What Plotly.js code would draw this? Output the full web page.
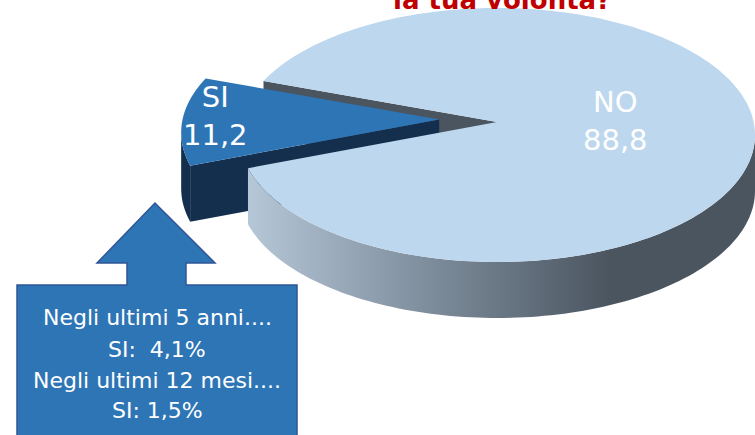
<!DOCTYPE html>
<html>
<head>
<meta charset="utf-8">
<script src="https://cdn.plot.ly/plotly-3.0.1.min.js"></script>
<style>html,body{margin:0;padding:0;background:#fff;}#chart{width:755px;height:435px;}</style>
</head>
<body>
<div id="chart"></div>
<script>
// ---- data ----
const categories = ['SI', 'NO'];
const values = [11.2, 88.8];
const titleText = 'la tua volontà?';
const calloutLines = ['Negli ultimi 5 anni....', 'SI:\u00a0 4,1%', 'Negli ultimi 12 mesi....', 'SI: 1,5%'];

// ---- styles / geometry (pixel space) ----
const G = {cx: 497, cy: 135, rx: 258, ry: 127, ax: 497, ay: 122, depth: 56, firstMidDeg: 175};
const pulls = [0.225, 0];
const topColors = ['#2e75b6', '#bdd7ee'];
const wallColors = ['#142e4d', '#4a5560'];
const outerGradient = [null, [[0, '#b6c7d8'], [0.5, '#7e8d9c'], [1, '#4a5560']]];
const labelPos = [[215, 116], [615, 121]];
const calloutY = [317, 349, 380, 410];

const total = values.reduce((a, b) => a + b, 0);
const rad = d => d * Math.PI / 180;
function pt(t, z, off) {
  return [G.cx + G.rx * Math.cos(rad(t)) + off[0], G.cy - G.ry * Math.sin(rad(t)) + z + off[1]];
}
function arc(t0, t1, z, off) {
  const n = Math.max(2, Math.ceil(Math.abs(t1 - t0) / 1.5));
  const out = [];
  for (let k = 0; k <= n; k++) out.push(pt(t0 + (t1 - t0) * k / n, z, off));
  return out;
}
function poly(points, extra) {
  const x = points.map(p => p[0]), y = points.map(p => p[1]);
  x.push(x[0]); y.push(y[0]);
  return Object.assign({type: 'scatter', x, y, mode: 'none', fill: 'toself', hoverinfo: 'skip', showlegend: false}, extra);
}

// slice angles from data
let a = G.firstMidDeg - values[0] / total * 360 / 2;
const slices = values.map((v, i) => {
  const span = v / total * 360;
  const s = {i, a0: a, a1: a + span, mid: a + span / 2};
  a += span;
  const p = pulls[i];
  s.off = [p * G.rx * Math.cos(rad(s.mid)), -p * G.ry * Math.sin(rad(s.mid))];
  s.apex = [G.ax + s.off[0], G.ay + s.off[1]];
  return s;
});

const cutWalls = [], outerWalls = [], tops = [];
const order = slices.slice().sort((p, q) => pulls[p.i] - pulls[q.i]);
order.forEach(s => {
  [[s.a0, -1], [s.a1, 1]].forEach(([ang, sg]) => {
    if (Math.sin(rad(ang + sg * 90)) < -0.01) {
      const p0 = pt(ang, 0, s.off), p1 = pt(ang, G.depth, s.off);
      cutWalls.push(poly([s.apex, p0, p1, [s.apex[0], s.apex[1] + G.depth]], {fillcolor: wallColors[s.i]}));
    }
  });
});
slices.forEach(s => {
  for (let k = -1; k <= 2; k++) {
    const lo = Math.max(s.a0, 180 + 360 * k), hi = Math.min(s.a1, 360 + 360 * k);
    if (hi > lo) {
      const pts = arc(lo, hi, 0, s.off).concat(arc(hi, lo, G.depth, s.off));
      const extra = outerGradient[s.i]
        ? {fillcolor: '#7e8d9c', fillgradient: {type: 'horizontal', colorscale: outerGradient[s.i], start: 247, stop: 610}}
        : {fillcolor: wallColors[s.i]};
      outerWalls.push(poly(pts, extra));
    }
  }
});
slices.slice().sort((p, q) => pulls[p.i] - pulls[q.i]).forEach(s => {
  tops.push(poly([s.apex].concat(arc(s.a0, s.a1, 0, s.off)), {fillcolor: topColors[s.i]}));
});

const annotations = [];
annotations.push({x: 502, y: 17, xref: 'x', yref: 'y', text: titleText, showarrow: false,
  xanchor: 'center', yanchor: 'bottom', font: {family: 'DejaVu Sans', size: 26, color: '#c00000', weight: 'bold'}});
slices.forEach(s => {
  const [lx, ly] = labelPos[s.i];
  annotations.push({x: lx, y: ly, xref: 'x', yref: 'y', showarrow: false, xanchor: 'center', yanchor: 'middle',
    text: categories[s.i] + '<br>' + values[s.i].toFixed(1).replace('.', ','),
    font: {family: 'DejaVu Sans', size: 29, color: '#ffffff'}});
});
calloutLines.forEach((t, k) => {
  annotations.push({x: 157, y: calloutY[k], xref: 'x', yref: 'y', text: t, showarrow: false,
    xanchor: 'center', yanchor: 'middle', font: {family: 'DejaVu Sans', size: 22, color: '#ffffff'}});
});

const layout = {
  width: 755, height: 435,
  margin: {l: 0, r: 0, t: 0, b: 0},
  paper_bgcolor: '#ffffff', plot_bgcolor: '#ffffff',
  xaxis: {range: [0, 755], visible: false, fixedrange: true},
  yaxis: {range: [435, 0], visible: false, fixedrange: true},
  showlegend: false,
  shapes: [{type: 'path', xref: 'x', yref: 'y', layer: 'above',
    path: 'M17,285 L127,285 L127,263 L97,263 L155,203 L215,263 L186,263 L186,285 L297,285 L297,445 L17,445 Z',
    fillcolor: '#2e75b6', line: {color: '#2f5597', width: 1.5}}],
  annotations
};

Plotly.newPlot('chart', cutWalls.concat(outerWalls, tops), layout, {staticPlot: true, displayModeBar: false});
</script>
</body>
</html>
